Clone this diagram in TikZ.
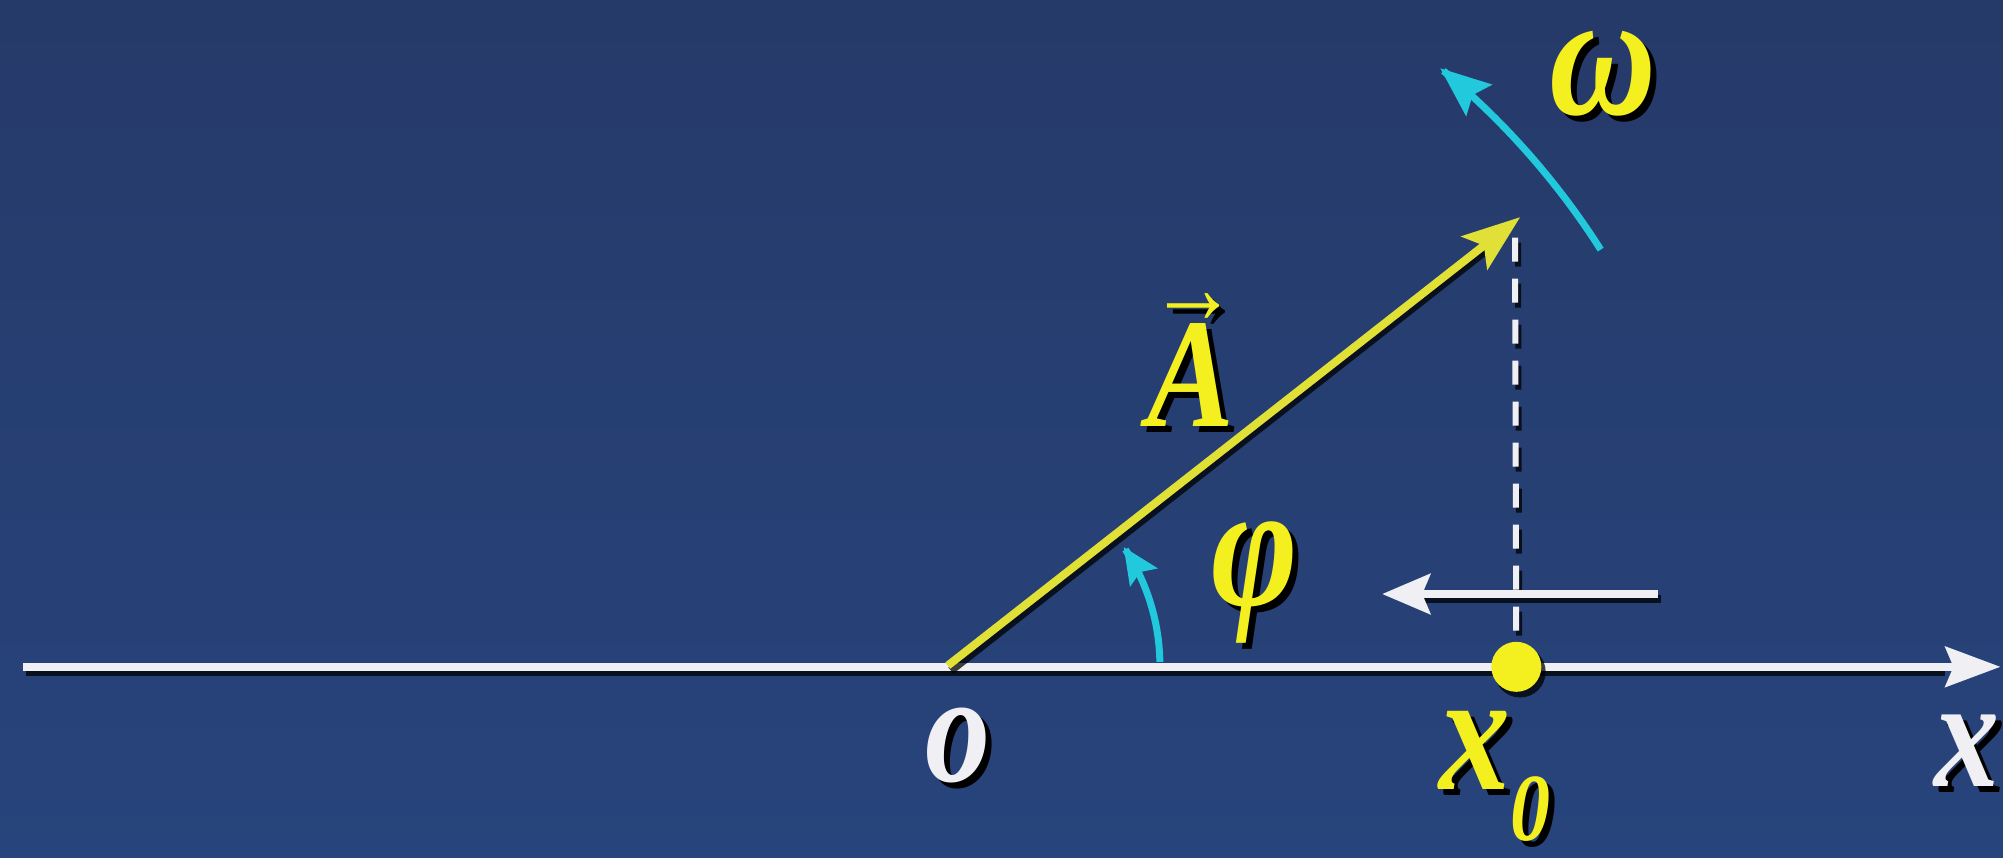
\documentclass[tikz,border=0pt]{standalone}
\usepackage{fontspec}
\setmainfont{Liberation Serif}
\usetikzlibrary{arrows.meta,calc}
\definecolor{bgtop}{HTML}{263A69}
\definecolor{bgbot}{HTML}{27447C}
\definecolor{vecyel}{HTML}{E0E036}
\definecolor{lblyel}{HTML}{F4F020}
\definecolor{cyanarc}{HTML}{22C8DC}
\definecolor{axwhite}{HTML}{F0F0F4}
\tikzset{
  lbltext/.style={font=\fontsize{130}{130}\bfseries\itshape\selectfont, inner sep=0pt, anchor=center, yscale=1.2},
  biglbl/.style={font=\fontsize{148}{148}\bfseries\itshape\selectfont},
  shadowline/.style={black, opacity=0.75, transform canvas={shift={(3pt,-5pt)}}},
  axisline/.style={axwhite, line width=8pt},
  vecline/.style={vecyel, line width=8pt},
  arcline/.style={cyanarc, line width=7pt},
}
% label with built-in drop shadow
\newcommand{\shd}[1]{\makebox[0pt][l]{\hspace{6pt}\raisebox{-5pt}{\color{black}#1}}#1}
\begin{document}
\begin{tikzpicture}[x=1.2774pt,y=-1.2774pt]
\shade[top color=bgtop, bottom color=bgbot] (0,0) rectangle (1568,671);
\useasboundingbox (0,0) rectangle (1568,671);
% coordinates
\coordinate (AL) at (18,522);
\coordinate (AR) at (1566,522);
\coordinate (O) at (742,521);
\coordinate (T) at (1190,170);
\coordinate (Dtop) at (1186,186);
\coordinate (D) at (1187,522);
\coordinate (WR) at (1298,465);
\coordinate (WL) at (1082,465);
% axis
\draw[shadowline, line width=8pt] (AL) -- (1520,522);
\draw[axisline, -{Stealth[length=55pt,width=40pt,inset=8pt]}] (AL) -- (AR);
% dashed projection
\draw[shadowline, line width=6pt, dash pattern=on 24pt off 17pt] (Dtop) -- (D);
\draw[axwhite, line width=6pt, dash pattern=on 24pt off 17pt] (Dtop) -- (D);
% vector
\draw[shadowline, line width=8pt] (O) -- (1160,193);
\draw[vecline, -{Stealth[length=58pt,width=42pt,inset=12pt]}] (O) -- (T);
% white velocity arrow
\draw[shadowline, line width=8pt] (WR) -- (1110,465);
\draw[axwhite, line width=8pt, -{Stealth[length=48pt,width=40pt,inset=8pt]}] (WR) -- (WL);
% dot
\fill[black, opacity=0.75] ($(D)+(3,4)$) circle (20);
\node[circle, fill=lblyel, minimum size=50pt, inner sep=0pt] (dot) at (D) {};
% phi arc
\draw[arcline, -{Stealth[length=36pt,width=32pt,inset=6pt]}]
  plot[domain=1:34, samples=40] ({742+166*cos(\x)},{521-166*sin(\x)});
% omega arc
\draw[arcline, -{Stealth[length=50pt,width=40pt,inset=8pt]}]
  plot[domain=32.5:50.5, samples=60] ({742+606*cos(\x)},{521-606*sin(\x)});
% labels
\node[lbltext, text=axwhite] (lo) at (750,586) {\shd{o}};
\node[lbltext, text=axwhite] (lx) at (1540,590) {\shd{x}};
\node[lbltext, text=lblyel] (lx0) at (1170,610) {\shd{\fontsize{142}{142}\selectfont x\raisebox{-42pt}{\fontsize{80}{80}\selectfont 0}}};
\node[lbltext, biglbl, text=lblyel] (lphi) at (982,458) {\shd{φ}};
\node[lbltext, biglbl, text=lblyel] (lom) at (1255,60) {\shd{ω}};
\node[lbltext, text=lblyel] (lA) at (932,284) {\shd{\makebox[0pt][l]{\hspace{2pt}\raisebox{86pt}{\upshape\mdseries\fontsize{88}{88}\selectfont →}}A}};
\end{tikzpicture}
\end{document}
